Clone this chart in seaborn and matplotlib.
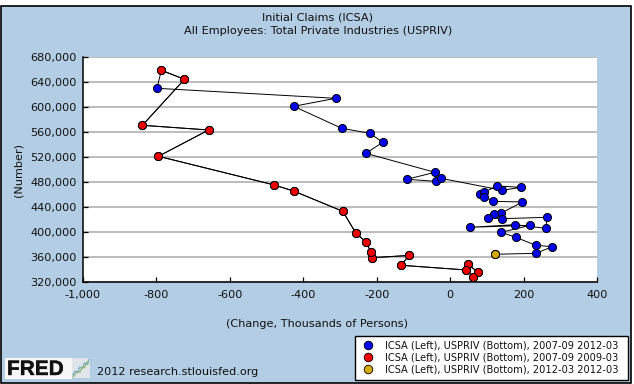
import matplotlib
matplotlib.use("Agg")
import matplotlib.pyplot as plt
import matplotlib.patheffects as pe
from matplotlib.patches import Rectangle
from matplotlib.lines import Line2D
from matplotlib.ticker import FuncFormatter
import seaborn as sns
import pandas as pd

# Thousands of persons (x), number of claims (y)
red_x = [48.6, 75.9, 63.3, 44.2, -133.2, -112.4, -213.4, -215, -229.7, -257, -292.5,
         -424.3, -478.9, -794.5, -658, -838.2, -723.6, -786.4]
red_y = [348800, 336000, 328000, 339700, 347200, 362900, 359400, 368000, 384500, 398900, 433600,
         465600, 475700, 521600, 563700, 571200, 644800, 659200]
later_x = [-798.9, -311.6, -426.2, -295.2, -218.8, -183.4, -229.7, -41.5, -117.9, -39.6, -25.1,
           142.4, 193.2, 126.9, 81.3, 92.2, 93.3, 117.9, 197, 137.8, 120.6, 103.1, 142.4,
           264.1, 260.6, 176.8, 54, 218.8, 138.6, 178.7, 233.3, 277.8, 234.1, 122.2]
later_y = [630400, 614400, 601600, 566400, 558400, 544000, 526400, 496000, 484800, 481600, 486400,
           467200, 472000, 474100, 460800, 464500, 457000, 449600, 448500, 430400, 429300, 423400, 421800,
           424000, 406400, 412200, 408000, 411200, 400000, 392000, 379200, 377000, 366400, 364800]
gold_x = [122.2]
gold_y = [364800]
x_ticks = [-1000, -800, -600, -400, -200, 0, 200, 400]
y_ticks = [320000, 360000, 400000, 440000, 480000, 520000, 560000, 600000, 640000, 680000]
legend_labels = ["ICSA (Left), USPRIV (Bottom), 2007-09 2012-03",
                 "ICSA (Left), USPRIV (Bottom), 2007-09 2009-03",
                 "ICSA (Left), USPRIV (Bottom), 2012-03 2012-03"]
logo_a = [1, 2, 1.6, 3, 2.6, 4, 3.6, 5]
logo_b = [0.5, 1.2, 1.9, 1.7, 3, 2.8, 4.2, 4]

sns.set_theme(style="white")
W, H = 634, 384
PANEL = "#b3cde4"
FS = 8.1
fig = plt.figure(figsize=(W / 100, H / 100), dpi=100, facecolor="white")
fig.patches.append(Rectangle((1 / W, 1 - 383 / H), 630 / W, 377 / H, transform=fig.transFigure,
                             facecolor=PANEL, edgecolor="black", linewidth=1.2, zorder=-5))
ax = fig.add_axes([83 / W, 1 - 282.3 / H, 514 / W, 225 / H], facecolor="white")

blue = pd.DataFrame({"x": red_x + later_x, "y": red_y + later_y})
red = pd.DataFrame({"x": red_x, "y": red_y})
gold = pd.DataFrame({"x": gold_x, "y": gold_y})

sns.lineplot(data=blue, x="x", y="y", sort=False, estimator=None, color="black", lw=0.7, ax=ax, zorder=3)
sns.lineplot(data=red, x="x", y="y", sort=False, estimator=None, color="black", lw=0.7, ax=ax, zorder=5)
mk = dict(s=34, edgecolor="black", linewidth=0.7, ax=ax, clip_on=False)
sns.scatterplot(data=blue, x="x", y="y", color="#0000ee", zorder=4, **mk)
sns.scatterplot(data=red, x="x", y="y", color="#ee0000", zorder=6, **mk)
sns.scatterplot(data=gold, x="x", y="y", color="#d4a90a", zorder=7, **mk)

ax.set_xlim(-1000, 400)
ax.set_ylim(320000, 680000)
ax.set_xticks(x_ticks)
ax.set_yticks(y_ticks)
ax.xaxis.set_major_formatter(FuncFormatter(lambda v, _: f"{int(v):,}"))
ax.yaxis.set_major_formatter(FuncFormatter(lambda v, _: f"{int(v):,}"))
ax.tick_params(axis="both", direction="in", length=3.6, width=0.9, color="black",
               labelsize=FS, labelcolor="#111111", bottom=True, left=True)
ax.tick_params(axis="y", pad=4.5)
ax.tick_params(axis="x", pad=5.5)
ax.yaxis.grid(True, color="#aaaaaa", lw=1.1, zorder=1)
ax.xaxis.grid(False)
ax.set_axisbelow(True)
for s in ("top", "right"):
    ax.spines[s].set_visible(False)
for s in ("left", "bottom"):
    ax.spines[s].set_color("black")
    ax.spines[s].set_linewidth(1.1)
ax.set_xlabel("")
ax.set_ylabel("")

c = "#111111"
fig.text(318 / W, 1 - 17 / H, "Initial Claims (ICSA)", ha="center", va="center", fontsize=FS, color=c)
fig.text(318 / W, 1 - 31 / H, "All Employees: Total Private Industries (USPRIV)", ha="center", va="center", fontsize=FS, color=c)
fig.text(18 / W, 1 - 170 / H, "(Number)", rotation=90, ha="center", va="center", fontsize=FS, color=c)
fig.text(317 / W, 1 - 324 / H, "(Change, Thousands of Persons)", ha="center", va="center", fontsize=FS, color=c)

fig.patches.append(Rectangle((355 / W, 1 - 380 / H), 272.7 / W, 44.3 / H, transform=fig.transFigure,
                             facecolor="white", edgecolor="black", linewidth=1.0, zorder=1))
handles = [Line2D([], [], ls="", marker="o", ms=6.2, mfc=col, mec="black", mew=0.6)
           for col in ("#0000ee", "#ee0000", "#d4a90a")]
leg = fig.legend(handles, legend_labels, loc="lower left", bbox_to_anchor=(355 / W, 1 - 380 / H),
                 bbox_transform=fig.transFigure, fontsize=7.15, frameon=False,
                 borderpad=0.55, labelspacing=0.2, handletextpad=0.9, handlelength=1.6, borderaxespad=0)
for t in leg.get_texts():
    t.set_color(c)

fig.patches.append(Rectangle((5 / W, 1 - 379 / H), 67 / W, 21 / H, transform=fig.transFigure,
                             facecolor="#f7f7f7", edgecolor="none", zorder=1))
fig.text(7 / W, 1 - 369.5 / H, "FRED", ha="left", va="center", fontsize=15, fontweight="bold",
         color="#111111", family="Liberation Sans", zorder=3,
         path_effects=[pe.withStroke(linewidth=0.3, foreground="#111111")])
logo = fig.add_axes([72 / W, 1 - 378 / H, 18 / W, 20 / H], facecolor="#dfe5e8", zorder=3)
sns.lineplot(x=list(range(len(logo_a))), y=logo_a, sort=False, color="#6e9fc8", lw=0.8, ax=logo)
sns.lineplot(x=list(range(len(logo_b))), y=logo_b, sort=False, color="#8ab56e", lw=0.8, ax=logo)
logo.set_xticks([]); logo.set_yticks([]); logo.set_xlabel(""); logo.set_ylabel("")
for s in logo.spines.values():
    s.set_visible(False)
fig.text(97 / W, 1 - 372 / H, "2012 research.stlouisfed.org", ha="left", va="center", fontsize=FS, color=c)

fig.savefig("out.png", dpi=100, facecolor="white")
